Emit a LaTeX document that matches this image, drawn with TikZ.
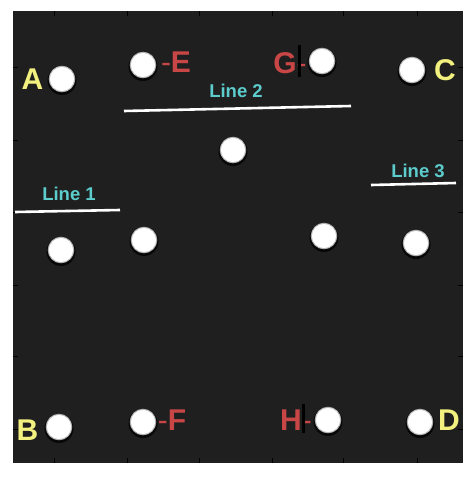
\documentclass[tikz,border=0pt]{standalone}
\usepackage{fontspec}
\setmainfont{Liberation Sans}
\definecolor{bgdark}{HTML}{1F1F1F}
\definecolor{lblyellow}{HTML}{F2F07E}
\definecolor{lblred}{HTML}{C84646}
\definecolor{lblcyan}{HTML}{5CCCCC}
\newcommand{\thinhy}{{\mdseries -}}
\begin{document}
\begin{tikzpicture}[x=1pt,y=-1pt,
  halo/.style={circle,fill=black,opacity=0.75,minimum size=29pt,inner sep=0pt},
  dot/.style={circle,fill=white,draw=gray!60,line width=1pt,minimum size=25.5pt,inner sep=0pt},
  ptlabel/.style={anchor=base,inner sep=0pt,font=\fontsize{30}{30}\selectfont\bfseries},
  linelabel/.style={anchor=base,inner sep=0pt,text=lblcyan,font=\fontsize{18.5}{18.5}\selectfont\bfseries},
  refline/.style={draw=white,line width=2.6pt},
  tick/.style={draw=black,line width=0.8pt},
  bar/.style={draw=black,line width=3pt}]
\useasboundingbox (0,0) rectangle (475,477);
\fill[white] (0,0) rectangle (475,477);
\fill[bgdark] (13,11) rectangle (463,463);
% ticks
\foreach \x in {54,127,199,272,343,417}{
  \draw[tick] (\x,463) -- (\x,458);
  \draw[tick] (\x,11) -- (\x,16);}
\foreach \y in {67,140,212,285,356,429}{
  \draw[tick] (13,\y) -- (18,\y);
  \draw[tick] (463,\y) -- (458,\y);}
% reference lines
\coordinate (l1a) at (15,212); \coordinate (l1b) at (120,210);
\coordinate (l2a) at (124,111); \coordinate (l2b) at (351,106);
\coordinate (l3a) at (371,185); \coordinate (l3b) at (456,183);
\draw[refline] (l1a) -- (l1b);
\draw[refline] (l2a) -- (l2b);
\draw[refline] (l3a) -- (l3b);
% dots
\foreach \n/\px/\py in {A/62/79,E/143/65,G/322/61,C/412/70,M/233/150,
  P/61/250,Q/144/240,R/324/236,S/416/243,B/59/427,F/143/422,H/328/420,D/420/422}{
  \node[halo] (h\n) at (\px,\py+1.5) {};
  \node[dot] (d\n) at (\px,\py) {};}
% bars
\coordinate (gb1) at (299,45); \coordinate (gb2) at (299,77);
\coordinate (hb1) at (303.5,404); \coordinate (hb2) at (303.5,433);
% labels
\node[ptlabel,text=lblyellow] (tA) at (32.5,89) {A};
\node[ptlabel,text=lblyellow] (tB) at (27.5,440) {B};
\node[ptlabel,text=lblyellow] (tC) at (445,80) {C};
\node[ptlabel,text=lblyellow] (tD) at (449,430) {D};
\node[ptlabel,text=lblred] (tE) at (176,72) {\thinhy E};
\node[ptlabel,text=lblred] (tF) at (172,430) {\thinhy F};
\node[ptlabel,text=lblred] (tG) at (290,73) {G\thinhy};
\node[ptlabel,text=lblred] (tH) at (296,430) {H\thinhy};
\draw[bar] (gb1) -- (gb2);
\draw[bar] (hb1) -- (hb2);
\node[linelabel] (t1) at (69,200) {Line 1};
\node[linelabel] (t2) at (236,97) {Line 2};
\node[linelabel] (t3) at (418,177) {Line 3};
\end{tikzpicture}
\end{document}
